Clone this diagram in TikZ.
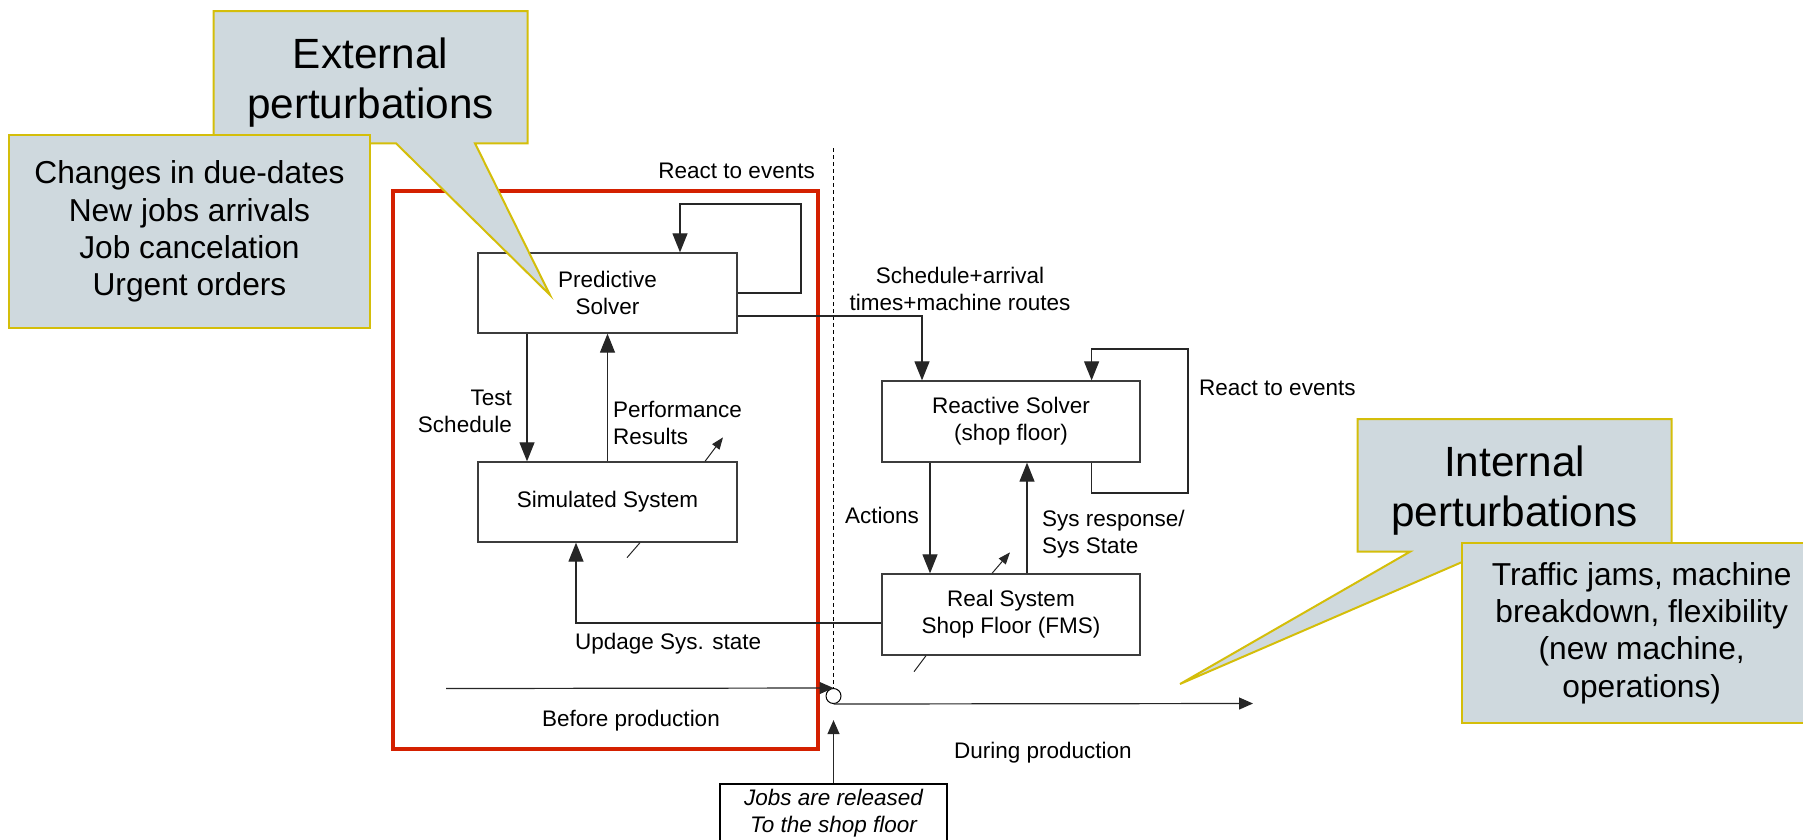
\documentclass[tikz,border=0pt]{standalone}
\usepackage{fontspec}
\setmainfont{Liberation Sans}
\usetikzlibrary{arrows.meta,positioning,calc}
\definecolor{calloutfill}{RGB}{207,217,222}
\definecolor{calloutline}{RGB}{212,190,10}
\definecolor{framered}{RGB}{212,32,0}
\definecolor{boxline}{RGB}{60,60,60}

\begin{document}
\begin{tikzpicture}[x=1pt,y=-1pt,
    block/.style={rectangle,draw=boxline,line width=1.3pt,minimum width=259pt,minimum height=80pt,align=center,font=\fontsize{22.5}{27}\selectfont},
    lbl/.style={inner sep=0pt,font=\fontsize{22.5}{27}\selectfont},
    arrow/.style={draw=black!85,line width=1.2pt,-{Triangle[length=19pt,width=15pt]}},
    thinarrow/.style={draw=black!85,line width=1.2pt,-{Triangle[length=14pt,width=12pt]}},
    stray/.style={draw=black!85,line width=1pt,-{Triangle[length=12pt,width=9pt]}},
    callout/.style={fill=calloutfill,draw=calloutline,line width=2pt,line join=miter},
    calloutbox/.style={callout,rectangle,align=center,inner sep=0pt,font=\fontsize{31.7}{37.2}\selectfont},
    bigtxt/.style={align=center,inner sep=0pt,font=\fontsize{42.3}{49.5}\selectfont}]
    \useasboundingbox (0,0) rectangle (1803,839);
    \draw[draw=framered,line width=3.5pt] (393,191) rectangle (818,749);
    \node[block] (pred) at (607.5,293) {Predictive\\Solver};
    \node[block] (sim) at (607.5,502) {Simulated System};
    \node[block,minimum width=258pt,minimum height=81pt] (react) at (1011,421.5) {Reactive Solver\\(shop floor)};
    \node[block,minimum width=258pt,minimum height=81pt] (real) at (1011,614.5) {Real System\\Shop Floor (FMS)};
    \node[block,draw=black,line width=1.8pt,minimum width=227pt,minimum height=90pt] (jobs) at (833.5,829) {};
    \node[lbl,align=center,font=\fontsize{22.5}{27}\selectfont\itshape] (jobstxt) at (833.5,813) {Jobs are released\\To the shop floor};
    \node[circle,draw=black,line width=1pt,minimum size=15pt,inner sep=0pt] (circ) at (833.5,696) {};
    \coordinate (dtop) at (833.5,148);
    \coordinate (pl) at (801,204);
    \coordinate (rl1) at (1188,493);
    \coordinate (rl2) at (1188,349);
    \coordinate (bstart) at (446,688.5);
    \coordinate (dend) at (1253,703.5);
    \draw[black,line width=1pt,dash pattern=on 4pt off 3pt] (dtop) -- (circ.north);
    \draw[arrow] (pred.east) -| (pl) -| ([xshift=72.5pt]pred.north);
    \draw[arrow] ([yshift=-23pt]pred.east) -| ([xshift=-89pt]react.north);
    \draw[arrow] ([xshift=-80.5pt]pred.south) -- ([xshift=-80.5pt]sim.north);
    \draw[arrow] (sim.north) -- (pred.south);
    \draw[stray] ([xshift=97.5pt]sim.north) -- ++(18,-24);
    \draw[draw=black!85,line width=1pt] ([xshift=32.5pt]sim.south) -- ++(-13,15);
    \draw[arrow] ([yshift=-8.5pt]real.west) -| ([xshift=-31.5pt]sim.south);
    \draw[arrow] ([xshift=80.6pt]react.south) |- (rl1) -- (rl2) -| ([xshift=80.6pt]react.north);
    \draw[arrow] ([xshift=-81pt]react.south) -- ([xshift=-81pt]real.north);
    \draw[arrow] ([xshift=16pt]real.north) -- ([xshift=16pt]react.south);
    \draw[stray] ([xshift=-19pt]real.north) -- ++(18,-21);
    \draw[draw=black!85,line width=1pt] ([xshift=-85pt]real.south) -- ++(-12,16);
    \draw[thinarrow] (bstart) -- (circ.north);
    \draw[thinarrow] (circ.south) -- (dend);
    \draw[thinarrow] (jobs.north) -- ++(0,-63);
    \node[lbl,anchor=base east] (reacttop) at (815,178) {React to events};
    \node[lbl,align=center] (sched) at (960,289.4) {Schedule+arrival\\times+machine routes};
    \node[lbl,anchor=east,align=right] (test) at (512,411) {Test\\Schedule};
    \node[lbl,anchor=west,align=left] (perf) at (613,423) {Performance\\Results};
    \node[lbl,anchor=base east] (act) at (919,523.3) {Actions};
    \node[lbl,anchor=west,align=left] (resp) at (1042,534.4) {Sys response/\\Sys State};
    \node[lbl,anchor=base west] (reactright) at (1199,395) {React to events};
    \node[lbl,anchor=base west] (upd) at (575,649) {Updage Sys. state};
    \node[lbl,anchor=base] (before) at (631,726) {Before production};
    \node[lbl,anchor=base] (during) at (1043,758) {During production};
    \filldraw[callout] (213.6,11) -- (527.5,11) -- (527.5,143.3) -- (475,143.3) -- (550,295) -- (396,143.3) -- (213.6,143.3) -- cycle;
    \node[bigtxt] (ext) at (370.5,82.6) {External\\perturbations};
    \node[calloutbox,minimum width=361pt,minimum height=193pt] (changes) at (189.5,231.5) {Changes in due-dates\\New jobs arrivals\\Job cancelation\\Urgent orders};
    \filldraw[callout] (1357.7,419) -- (1671.7,419) -- (1671.7,551.7) -- (1486,551.7) -- (1180,684) -- (1410,551.7) -- (1357.7,551.7) -- cycle;
    \node[bigtxt] (int) at (1514.7,490.7) {Internal\\perturbations};
    \node[calloutbox,minimum width=360pt,minimum height=180pt] (traffic) at (1641.7,633) {Traffic jams, machine\\breakdown, flexibility\\(new machine,\\operations)};
\end{tikzpicture}
\end{document}
